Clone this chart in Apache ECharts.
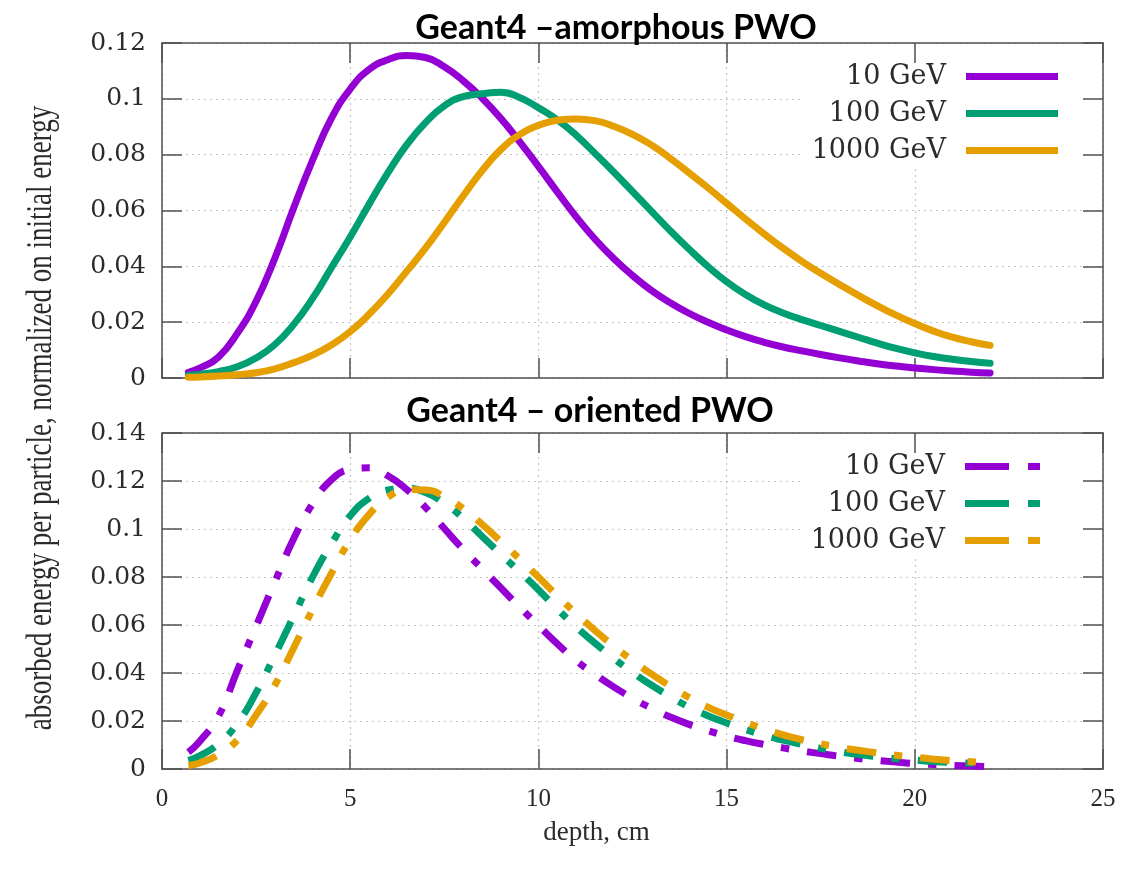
<!DOCTYPE html>
<html>
<head>
<meta charset="utf-8">
<script src="https://cdn.jsdelivr.net/npm/echarts@6/dist/echarts.min.js"></script>
<style>
  html, body { margin: 0; padding: 0; background: #fff; }
  #chart { width: 1128px; height: 877px; }
</style>
</head>
<body>
<div id="chart"></div>
<script>
// Longitudinal shower profiles in PWO: absorbed energy per particle vs depth (cm)
const energyNames = ['10 GeV', '100 GeV', '1000 GeV'];
const colors = ['#9400D3', '#009E73', '#E69F00'];

// Sampled depths (cm), shared by all profiles
const depth = [0.7, 1.0, 1.5, 2.0, 2.5, 3.0, 3.5, 4.0, 4.5, 5.0,
               5.5, 6.0, 6.5, 7.0, 7.5, 8.0, 8.5, 9.0, 9.5, 10.0,
               10.5, 11.0, 11.5, 12.0, 12.5, 13.0, 13.5, 14.0, 14.5, 15.0,
               15.5, 16.0, 16.5, 17.0, 17.5, 18.0, 18.5, 19.0, 19.5, 20.0,
               20.5, 21.0, 21.5, 22.0];

// Amorphous crystal
const edepAmo10 = [0.002, 0.0035, 0.0075, 0.016, 0.0275, 0.043, 0.061, 0.078, 0.093, 0.1035,
                   0.1105, 0.114, 0.1155, 0.1148, 0.1115, 0.1065, 0.1003, 0.093, 0.0847, 0.0758,
                   0.0667, 0.0578, 0.0498, 0.0428, 0.0367, 0.0314, 0.027, 0.0232, 0.020, 0.0172,
                   0.0148, 0.0128, 0.0111, 0.0097, 0.0084, 0.0072, 0.0061, 0.0051, 0.0043, 0.0036,
                   0.0030, 0.0025, 0.0021, 0.0018];
const edepAmo100 = [0.001, 0.0013, 0.0023, 0.004, 0.0072, 0.012, 0.0192, 0.0285, 0.0395, 0.0505,
                    0.0622, 0.0735, 0.0835, 0.0915, 0.0975, 0.1008, 0.1018, 0.1024, 0.1005, 0.0968,
                    0.0925, 0.087, 0.0805, 0.0738, 0.0668, 0.0598, 0.0528, 0.0462, 0.040, 0.0345,
                    0.0299, 0.0262, 0.0233, 0.0209, 0.0188, 0.0167, 0.0146, 0.0125, 0.0106, 0.009,
                    0.0077, 0.0067, 0.0059, 0.0053];
const edepAmo1000 = [0.0003, 0.0004, 0.0007, 0.0012, 0.0019, 0.0033, 0.0055, 0.0082, 0.0118, 0.0166,
                     0.0228, 0.030, 0.0382, 0.0465, 0.0557, 0.0652, 0.0742, 0.0818, 0.0872, 0.0905,
                     0.0923, 0.0928, 0.0922, 0.0902, 0.0873, 0.0835, 0.0787, 0.0735, 0.0682, 0.0626,
                     0.057, 0.0516, 0.0465, 0.0418, 0.0375, 0.0335, 0.0296, 0.0259, 0.0225, 0.0195,
                     0.0168, 0.0146, 0.013, 0.0117];

// Oriented crystal
const edepOri10 = [0.007, 0.0115, 0.022, 0.041, 0.0595, 0.078, 0.096, 0.1105, 0.1205, 0.1248,
                   0.1255, 0.1222, 0.1165, 0.109, 0.1002, 0.0915, 0.0835, 0.0755, 0.0675, 0.0598,
                   0.0522, 0.0452, 0.0395, 0.0342, 0.0295, 0.0253, 0.0217, 0.0186, 0.016, 0.0137,
                   0.0118, 0.0102, 0.0088, 0.0075, 0.0064, 0.0053, 0.0044, 0.0036, 0.0029, 0.0023,
                   0.0019, 0.0015, 0.0012, 0.001];
const edepOri100 = [0.0035, 0.0055, 0.0105, 0.019, 0.0318, 0.0475, 0.0638, 0.080, 0.0938, 0.1055,
                    0.1128, 0.1163, 0.117, 0.1152, 0.1108, 0.1045, 0.097, 0.0895, 0.0822, 0.0747,
                    0.0667, 0.0592, 0.0525, 0.0461, 0.0403, 0.035, 0.0302, 0.0258, 0.0222, 0.0192,
                    0.0165, 0.014, 0.012, 0.0102, 0.0086, 0.0072, 0.006, 0.0051, 0.0043, 0.0037,
                    0.0031, 0.0027, 0.0024, 0.0021];
const edepOri1000 = [0.0015, 0.0025, 0.006, 0.012, 0.0225, 0.035, 0.0505, 0.0665, 0.0815, 0.0955,
                     0.106, 0.1132, 0.1165, 0.1163, 0.1135, 0.1085, 0.102, 0.0948, 0.0875, 0.080,
                     0.0722, 0.0648, 0.0578, 0.0513, 0.0452, 0.0396, 0.0345, 0.0298, 0.0258, 0.0225,
                     0.0195, 0.0167, 0.0142, 0.0122, 0.0105, 0.009, 0.0078, 0.0067, 0.0057, 0.0049,
                     0.0041, 0.0035, 0.003, 0.0025];

// Axis ticks
const depthTicks = { min: 0, max: 25, interval: 5 };
const amoTicks = { min: 0, max: 0.12, interval: 0.02 };
const oriTicks = { min: 0, max: 0.14, interval: 0.02 };

const plotTitles = ['Geant4 \u2013amorphous PWO', 'Geant4 \u2013 oriented PWO'];
const yTitle = 'absorbed energy per particle, normalized on initial energy';
const xTitle = 'depth, cm';

const SERIF = '"Liberation Serif", serif';
const WIDE_SERIF = '"DejaVu Serif", serif';
const AXIS_COLOR = '#505050';
const TEXT_COLOR = '#2b2b2b';
const GRID_LINE = { color: '#c4c4c4', width: 1.2, type: [2, 4] };
const DASH_DOT = [30, 18, 8, 18];

const zip = (xs, ys) => xs.map((x, i) => [x, ys[i]]);
const fmt = v => String(+v.toFixed(2));

function frameLine() {
  return { show: true, onZero: false, lineStyle: { color: AXIS_COLOR, width: 1.5 } };
}
function innerTicks() {
  return { show: true, inside: true, length: 20, lineStyle: { color: AXIS_COLOR, width: 1.5 } };
}
function mainX(grid, labels) {
  return {
    type: 'value', gridIndex: grid, position: 'bottom', ...depthTicks,
    axisLine: frameLine(), axisTick: innerTicks(),
    axisLabel: { show: labels, margin: 18, fontFamily: SERIF, fontSize: 25, color: TEXT_COLOR },
    splitLine: { show: true, lineStyle: GRID_LINE },
    name: labels ? xTitle : '', nameLocation: 'middle', nameGap: 50,
    nameTextStyle: { fontFamily: SERIF, fontSize: 27, color: TEXT_COLOR, padding: [0, 72, 0, 0] }
  };
}
function mirrorX(grid) {
  return {
    type: 'value', gridIndex: grid, position: 'top', ...depthTicks, z: 3,
    axisLine: frameLine(), axisTick: innerTicks(),
    axisLabel: { show: false }, splitLine: { show: false }
  };
}
function mainY(grid, ticks) {
  return {
    type: 'value', gridIndex: grid, position: 'left', ...ticks,
    axisLine: frameLine(), axisTick: innerTicks(),
    axisLabel: { show: true, margin: 16, formatter: fmt, fontFamily: WIDE_SERIF, fontSize: 25, color: TEXT_COLOR },
    splitLine: { show: true, lineStyle: GRID_LINE }
  };
}
function mirrorY(grid, ticks) {
  return {
    type: 'value', gridIndex: grid, position: 'right', ...ticks, z: 3,
    axisLine: frameLine(), axisTick: innerTicks(),
    axisLabel: { show: false }, splitLine: { show: false }
  };
}

function curve(name, color, xs, ys, grid, dashed) {
  return {
    type: 'line', name, xAxisIndex: grid * 2, yAxisIndex: grid * 2,
    data: zip(xs, ys), showSymbol: false, symbol: 'none',
    smooth: 0.5, z: 2,
    color, itemStyle: { color },
    lineStyle: { color, width: 7, type: dashed ? DASH_DOT : 'solid', cap: dashed ? 'butt' : 'round', join: 'round' },
    emphasis: { disabled: true }
  };
}

// One legend component per key entry, right-aligned like a gnuplot key
function keyEntry(name, centerY, dashed) {
  return {
    data: [name], orient: 'horizontal', align: 'right', selectedMode: false,
    right: dashed ? 88 : 70, top: centerY - 13, padding: 0, z: 4,
    itemWidth: dashed ? 75 : 92, itemHeight: 7,
    icon: dashed ? 'path://M0,0H44V7H0Z M63,0H75V7H63Z' : 'rect',
    textStyle: { fontFamily: WIDE_SERIF, fontSize: 27, lineHeight: 26, color: TEXT_COLOR, padding: [0, 15, 0, 0] }
  };
}

const amoValues = [edepAmo10, edepAmo100, edepAmo1000];
const oriValues = [edepOri10, edepOri100, edepOri1000];

const series = [];
energyNames.forEach((n, i) => series.push(curve(n, colors[i], depth, amoValues[i], 0, false)));
energyNames.forEach((n, i) => series.push(curve(n, colors[i], depth, oriValues[i], 1, true)));

const option = {
  backgroundColor: '#fff',
  animation: false,
  grid: [
    { left: 162, right: 25, top: 43, height: 335, outerBoundsMode: 'none' },
    { left: 162, right: 25, top: 433, height: 336, outerBoundsMode: 'none' }
  ],
  xAxis: [mainX(0, false), mirrorX(0), mainX(1, true), mirrorX(1)],
  yAxis: [mainY(0, amoTicks), mirrorY(0, amoTicks), mainY(1, oriTicks), mirrorY(1, oriTicks)],
  legend: [
    keyEntry(energyNames[0], 76, false), keyEntry(energyNames[1], 113, false), keyEntry(energyNames[2], 150, false),
    keyEntry(energyNames[0], 466, true), keyEntry(energyNames[1], 503, true), keyEntry(energyNames[2], 540, true)
  ],
  series,
  graphic: [
    // opaque key boxes hide the grid behind the key
    { type: 'rect', z: 1, silent: true, shape: { x: 800, y: 45, width: 300, height: 120 }, style: { fill: '#fff' } },
    { type: 'rect', z: 1, silent: true, shape: { x: 800, y: 435, width: 300, height: 123 }, style: { fill: '#fff' } },
    { type: 'text', z: 10, x: 616, y: 28, silent: true,
      style: { text: plotTitles[0], font: 'bold 34px Lato, "Open Sans", sans-serif', fill: '#000', textAlign: 'center', textVerticalAlign: 'middle' } },
    { type: 'text', z: 10, x: 590, y: 411, silent: true,
      style: { text: plotTitles[1], font: 'bold 34px Lato, "Open Sans", sans-serif', fill: '#000', textAlign: 'center', textVerticalAlign: 'middle' } },
    { type: 'text', z: 10, x: 42, y: 418, rotation: Math.PI / 2, scaleY: 1.3, silent: true,
      style: { text: yTitle, font: '27px "Liberation Serif", serif', fill: TEXT_COLOR, textAlign: 'center', textVerticalAlign: 'middle' } }
  ]
};

const chart = echarts.init(document.getElementById('chart'), null, { renderer: 'canvas' });
chart.setOption(option);
</script>
</body>
</html>
